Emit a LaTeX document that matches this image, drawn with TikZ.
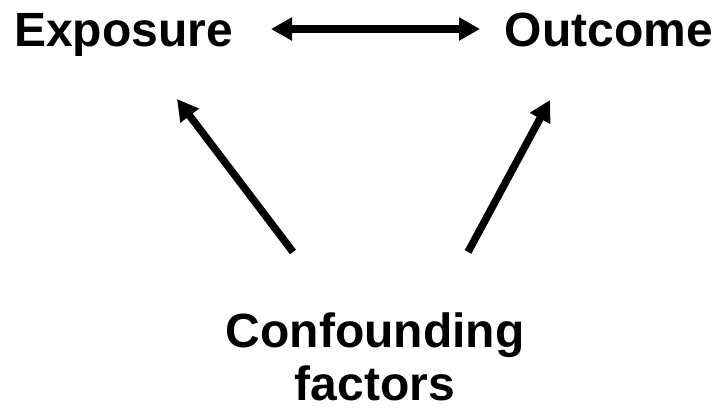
\documentclass[tikz,border=0pt]{standalone}
\usepackage{fontspec}
\setmainfont{Liberation Sans}
\usetikzlibrary{arrows.meta}
\begin{document}
\begin{tikzpicture}[x=1pt,y=-1pt,
  label/.style={font=\bfseries\fontsize{48}{53}\selectfont, inner sep=0pt, align=center},
  link/.style={line width=7.5pt, -{Triangle[length=21pt,width=22pt]}},
  both/.style={line width=7.5pt, {Triangle[length=21pt,width=22pt]}-{Triangle[length=21pt,width=22pt]}}]
  \useasboundingbox (0,0) rectangle (718,412);
  % terms
  \node[label, anchor=base] (expo) at (123.5,47) {Exposure};
  \node[label, anchor=base] (outc) at (609,47) {Outcome};
  \node[label, anchor=base] (conf) at (375,400) {Confounding\\factors};
  % arrow ends
  \coordinate (expoTip) at (177,99);
  \coordinate (confL) at (293,252);
  \coordinate (outcTip) at (550,100);
  \coordinate (confR) at (468,252);
  \coordinate (pairL) at (271,29);
  \coordinate (pairR) at (480,29);
  % connectors
  \draw[both] (pairL) -- (pairR);
  \draw[link] (confL) -- (expoTip);
  \draw[link] (confR) -- (outcTip);
\end{tikzpicture}
\end{document}
